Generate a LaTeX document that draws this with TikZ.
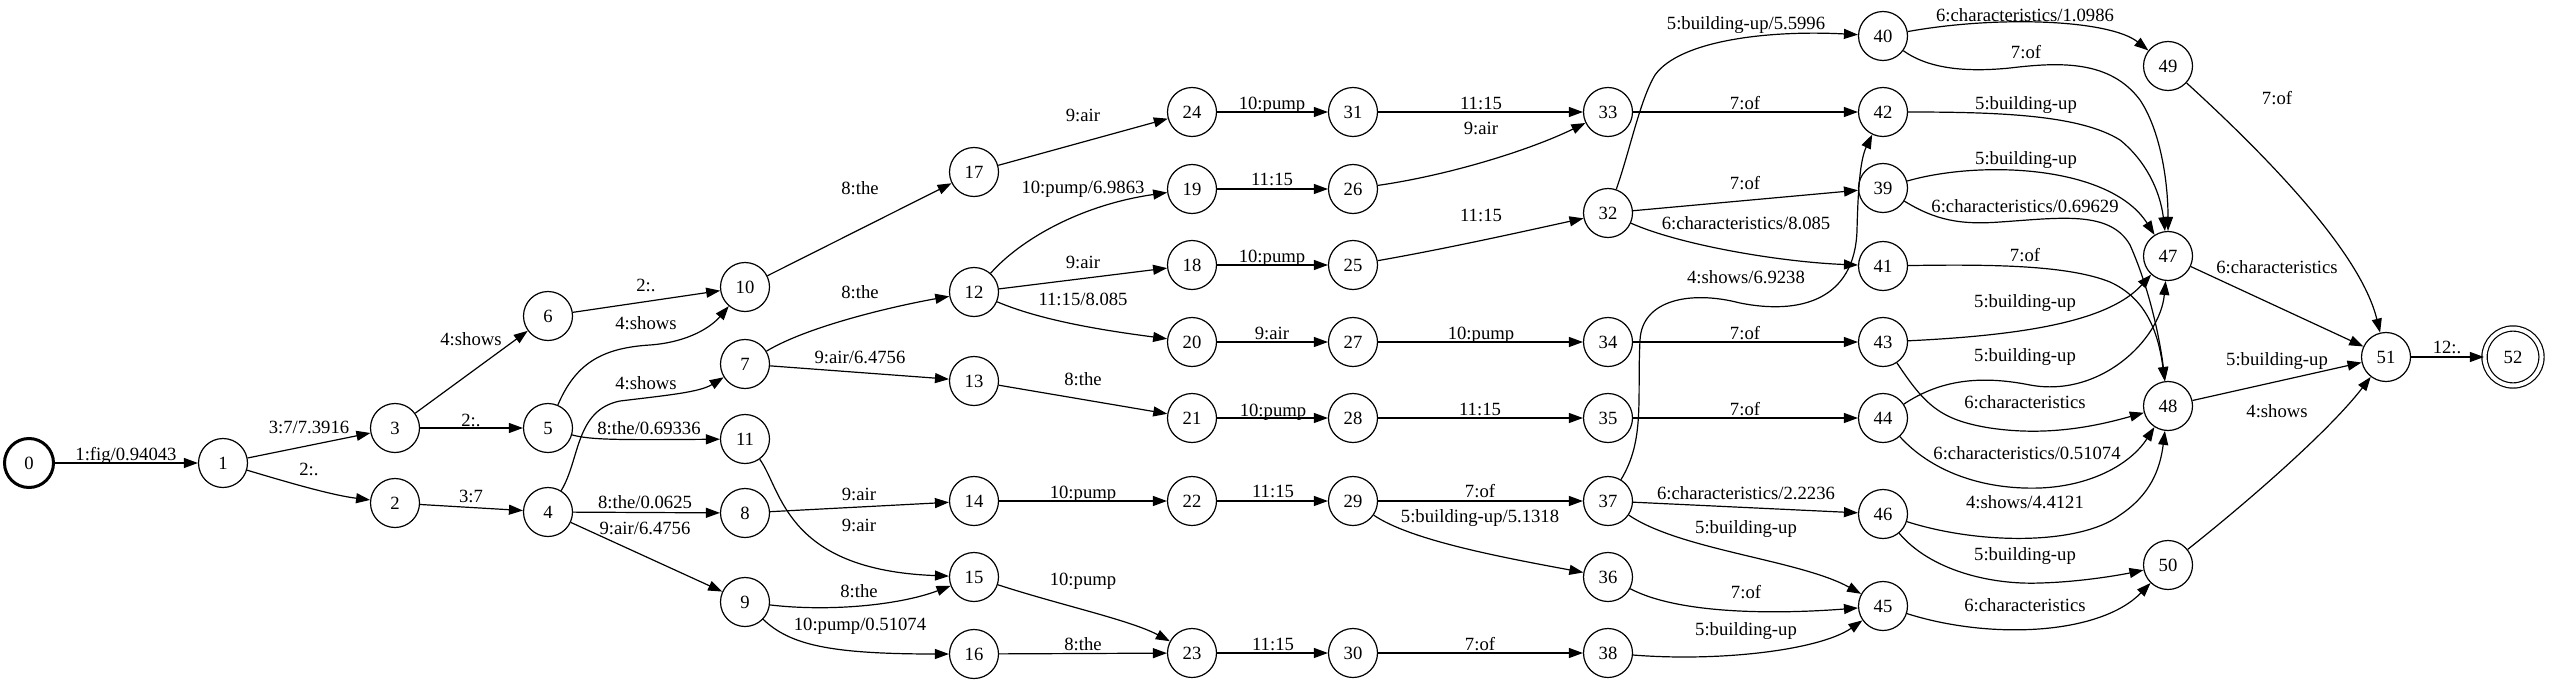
\documentclass[tikz,border=0pt]{standalone}
\usepackage{fontspec}
\setmainfont{Liberation Serif}
\usetikzlibrary{arrows.meta}
\newcommand{\gvfont}{\fontsize{18.67}{22}\selectfont}
\begin{document}
\begin{tikzpicture}[x=1pt,y=-1pt,
  st/.style={circle, draw, line width=1.2pt, minimum size=49pt, inner sep=0pt, font=\gvfont},
  init/.style={st, line width=3pt},
  fin/.style={st, double, double distance=4pt, minimum size=57pt},
  e/.style={line width=1.2pt, -{Triangle[length=14pt,width=10pt]}},
  lab/.style={anchor=base, inner sep=0pt, font=\gvfont}]
\useasboundingbox (0,0) rectangle (2550,685);
% nodes
\node[init] (n0) at (29,463) {0};
\node[st] (n1) at (223,463) {1};
\node[st] (n2) at (395,503) {2};
\node[st] (n3) at (395,428) {3};
\node[st] (n4) at (548,512) {4};
\node[st] (n5) at (548,428) {5};
\node[st] (n6) at (548,316) {6};
\node[st] (n7) at (745,364) {7};
\node[st] (n8) at (745,513) {8};
\node[st] (n9) at (745,602) {9};
\node[st] (n10) at (745,287) {10};
\node[st] (n11) at (745,439) {11};
\node[st] (n12) at (974,292) {12};
\node[st] (n13) at (974,381) {13};
\node[st] (n14) at (974,501) {14};
\node[st] (n15) at (974,577) {15};
\node[st] (n16) at (974,654) {16};
\node[st] (n17) at (974,172) {17};
\node[st] (n18) at (1192,265) {18};
\node[st] (n19) at (1192,189) {19};
\node[st] (n20) at (1192,342) {20};
\node[st] (n21) at (1192,418) {21};
\node[st] (n22) at (1192,501) {22};
\node[st] (n23) at (1192,653) {23};
\node[st] (n24) at (1192,112) {24};
\node[st] (n25) at (1353,265) {25};
\node[st] (n26) at (1353,189) {26};
\node[st] (n27) at (1353,342) {27};
\node[st] (n28) at (1353,418) {28};
\node[st] (n29) at (1353,501) {29};
\node[st] (n30) at (1353,653) {30};
\node[st] (n31) at (1353,112) {31};
\node[st] (n32) at (1608,213) {32};
\node[st] (n33) at (1608,112) {33};
\node[st] (n34) at (1608,342) {34};
\node[st] (n35) at (1608,418) {35};
\node[st] (n36) at (1608,577) {36};
\node[st] (n37) at (1608,501) {37};
\node[st] (n38) at (1608,653) {38};
\node[st] (n39) at (1883,188) {39};
\node[st] (n40) at (1883,36) {40};
\node[st] (n41) at (1883,266) {41};
\node[st] (n42) at (1883,112) {42};
\node[st] (n43) at (1883,342) {43};
\node[st] (n44) at (1883,418) {44};
\node[st] (n45) at (1883,606) {45};
\node[st] (n46) at (1883,514) {46};
\node[st] (n47) at (2168,256) {47};
\node[st] (n48) at (2168,406) {48};
\node[st] (n49) at (2168,66) {49};
\node[st] (n50) at (2168,565) {50};
\node[st] (n51) at (2386,357) {51};
\node[fin] (n52) at (2513,357) {52};
% edges
\draw[e] (n0) -- (n1) node[lab] (l1) at (126,460) {1:fig/0.94043};
\draw[e] (n1) -- (n3) node[lab] (l2) at (309,433) {3:7/7.3916};
\draw[e] (n1) .. controls (280,480) and (330,495) .. (n2) node[lab] (l3) at (309,475) {2:.};
\draw[e] (n3) -- (n6) node[lab] (l4) at (471,345) {4:shows};
\draw[e] (n3) -- (n5) node[lab] (l5) at (471,426) {2:.};
\draw[e] (n2) -- (n4) node[lab] (l6) at (471,502) {3:7};
\draw[e] (n6) -- (n10) node[lab] (l7) at (646,291) {2:.};
\draw[e] (n5) .. controls (575,365) and (600,348) .. (650,345) .. controls (690,342) and (712,326) .. (n10) node[lab] (l8) at (646,329) {4:shows};
\draw[e] (n4) .. controls (580,460) and (575,410) .. (620,401) .. controls (670,395) and (700,392) .. (n7) node[lab] (l9) at (646,389) {4:shows};
\draw[e] (n5) .. controls (590,440) and (620,440) .. (n11) node[lab] (l10) at (649,434) {8:the/0.69336};
\draw[e] (n4) -- (n8) node[lab] (l11) at (645,508) {8:the/0.0625};
\draw[e] (n4) -- (n9) node[lab] (l12) at (645,534) {9:air/6.4756};
\draw[e] (n10) -- (n17) node[lab] (l13) at (860,194) {8:the};
\draw[e] (n7) .. controls (810,325) and (900,305) .. (n12) node[lab] (l14) at (860,298) {8:the};
\draw[e] (n7) -- (n13) node[lab] (l15) at (860,363) {9:air/6.4756};
\draw[e] (n11) .. controls (782,490) and (785,570) .. (n15) node[lab] (l16) at (859,531) {9:air};
\draw[e] (n8) -- (n14) node[lab] (l17) at (859,500) {9:air};
\draw[e] (n9) .. controls (830,612) and (900,605) .. (n15) node[lab] (l18) at (859,597) {8:the};
\draw[e] (n9) .. controls (790,645) and (830,654) .. (n16) node[lab] (l19) at (860,630) {10:pump/0.51074};
\draw[e] (n13) -- (n21) node[lab] (l20) at (1083,385) {8:the};
\draw[e] (n14) -- (n22) node[lab] (l21) at (1083,498) {10:pump};
\draw[e] (n15) .. controls (1060,605) and (1130,620) .. (n23) node[lab] (l22) at (1083,585) {10:pump};
\draw[e] (n16) -- (n23) node[lab] (l23) at (1083,650) {8:the};
\draw[e] (n17) -- (n24) node[lab] (l24) at (1083,121) {9:air};
\draw[e] (n12) .. controls (1020,240) and (1080,205) .. (n19) node[lab] (l25) at (1083,193) {10:pump/6.9863};
\draw[e] (n12) -- (n18) node[lab] (l26) at (1083,268) {9:air};
\draw[e] (n12) .. controls (1040,320) and (1100,330) .. (n20) node[lab] (l27) at (1083,305) {11:15/8.085};
\draw[e] (n24) -- (n31) node[lab] (l28) at (1272,109) {10:pump};
\draw[e] (n19) -- (n26) node[lab] (l29) at (1272,185) {11:15};
\draw[e] (n18) -- (n25) node[lab] (l30) at (1272,262) {10:pump};
\draw[e] (n20) -- (n27) node[lab] (l31) at (1272,339) {9:air};
\draw[e] (n21) -- (n28) node[lab] (l32) at (1273,416) {10:pump};
\draw[e] (n22) -- (n29) node[lab] (l33) at (1273,497) {11:15};
\draw[e] (n23) -- (n30) node[lab] (l34) at (1273,650) {11:15};
\draw[e] (n31) -- (n33) node[lab] (l35) at (1481,109) {11:15};
\draw[e] (n26) .. controls (1450,175) and (1530,150) .. (n33) node[lab] (l36) at (1481,134) {9:air};
\draw[e] (n25) .. controls (1450,248) and (1530,230) .. (n32) node[lab] (l37) at (1481,221) {11:15};
\draw[e] (n27) -- (n34) node[lab] (l38) at (1481,339) {10:pump};
\draw[e] (n28) -- (n35) node[lab] (l39) at (1480,415) {11:15};
\draw[e] (n29) -- (n37) node[lab] (l40) at (1480,497) {7:of};
\draw[e] (n29) .. controls (1410,540) and (1500,557) .. (n36) node[lab] (l41) at (1480,522) {5:building-up/5.1318};
\draw[e] (n30) -- (n38) node[lab] (l42) at (1480,650) {7:of};
\draw[e] (n33) -- (n42) node[lab] (l43) at (1745,109) {7:of};
\draw[e] (n32) .. controls (1630,150) and (1640,100) .. (1655,75) .. controls (1680,40) and (1770,30) .. (n40) node[lab] (l44) at (1746,30) {5:building-up/5.5996};
\draw[e] (n32) -- (n39) node[lab] (l45) at (1745,189) {7:of};
\draw[e] (n32) .. controls (1680,245) and (1780,262) .. (n41) node[lab] (l46) at (1746,229) {6:characteristics/8.085};
\draw[e] (n37) .. controls (1645,440) and (1637,400) .. (1640,340) .. controls (1642,300) and (1690,290) .. (1740,303) .. controls (1800,315) and (1855,300) .. (1857,230) .. controls (1858,190) and (1860,160) .. (n42) node[lab] (l47) at (1746,283) {4:shows/6.9238};
\draw[e] (n34) -- (n43) node[lab] (l48) at (1745,339) {7:of};
\draw[e] (n35) -- (n44) node[lab] (l49) at (1745,415) {7:of};
\draw[e] (n37) -- (n46) node[lab] (l50) at (1746,499) {6:characteristics/2.2236};
\draw[e] (n37) .. controls (1680,550) and (1800,560) .. (n45) node[lab] (l51) at (1746,533) {5:building-up};
\draw[e] (n36) .. controls (1680,615) and (1780,614) .. (n45) node[lab] (l52) at (1746,598) {7:of};
\draw[e] (n38) .. controls (1720,662) and (1820,650) .. (n45) node[lab] (l53) at (1746,635) {5:building-up};
\draw[e] (n40) .. controls (2000,15) and (2110,20) .. (n49) node[lab] (l54) at (2025,22) {6:characteristics/1.0986};
\draw[e] (n40) .. controls (1930,70) and (1970,72) .. (2010,68) .. controls (2060,62) and (2110,60) .. (2140,100) .. controls (2160,130) and (2168,180) .. (n47) node[lab] (l55) at (2026,59) {7:of};
\draw[e] (n42) .. controls (2000,112) and (2080,115) .. (2120,140) .. controls (2145,160) and (2160,190) .. (n47) node[lab] (l56) at (2026,109) {5:building-up};
\draw[e] (n39) .. controls (1980,160) and (2110,165) .. (n47) node[lab] (l57) at (2026,164) {5:building-up};
\draw[e] (n39) .. controls (1935,220) and (1960,225) .. (2000,222) .. controls (2060,218) and (2110,210) .. (2130,245) .. controls (2150,290) and (2160,340) .. (n48) node[lab] (l58) at (2025,212) {6:characteristics/0.69629};
\draw[e] (n41) .. controls (2000,264) and (2070,266) .. (2110,282) .. controls (2145,298) and (2158,330) .. (n48) node[lab] (l59) at (2025,261) {7:of};
\draw[e] (n43) .. controls (2030,335) and (2110,320) .. (n47) node[lab] (l60) at (2025,307) {5:building-up};
\draw[e] (n44) .. controls (1940,380) and (1980,375) .. (2030,385) .. controls (2100,398) and (2160,340) .. (n47) node[lab] (l61) at (2025,361) {5:building-up};
\draw[e] (n43) .. controls (1925,405) and (1940,420) .. (1990,428) .. controls (2050,437) and (2100,425) .. (n48) node[lab] (l62) at (2025,408) {6:characteristics};
\draw[e] (n44) .. controls (1930,470) and (1980,490) .. (2040,488) .. controls (2090,486) and (2130,465) .. (n48) node[lab] (l63) at (2027,459) {6:characteristics/0.51074};
\draw[e] (n46) .. controls (1980,545) and (2080,545) .. (2120,515) .. controls (2150,495) and (2160,470) .. (n48) node[lab] (l64) at (2025,508) {4:shows/4.4121};
\draw[e] (n46) .. controls (1930,570) and (1990,585) .. (2040,583) .. controls (2080,582) and (2120,575) .. (n50) node[lab] (l65) at (2025,560) {5:building-up};
\draw[e] (n45) .. controls (1990,640) and (2100,635) .. (n50) node[lab] (l66) at (2025,611) {6:characteristics};
\draw[e] (n49) .. controls (2260,150) and (2360,250) .. (n51) node[lab] (l67) at (2277,104) {7:of};
\draw[e] (n47) -- (n51) node[lab] (l68) at (2277,273) {6:characteristics};
\draw[e] (n48) -- (n51) node[lab] (l69) at (2277,365) {5:building-up};
\draw[e] (n50) .. controls (2250,500) and (2330,430) .. (n51) node[lab] (l70) at (2277,417) {4:shows};
\draw[e] (n51) -- (n52) node[lab] (l71) at (2447,353) {12:.};
\end{tikzpicture}
\end{document}
